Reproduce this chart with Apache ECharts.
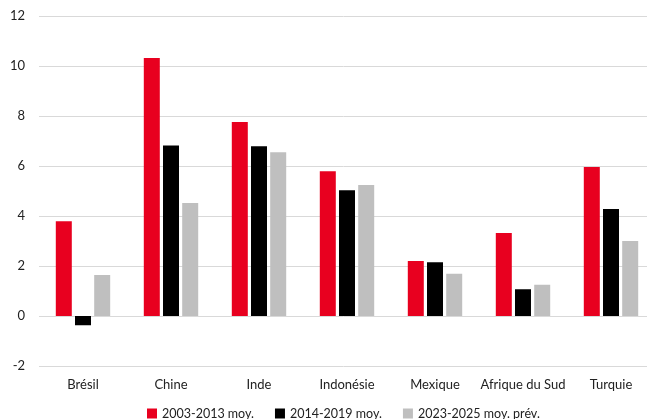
<!DOCTYPE html>
<html><head><meta charset="utf-8">
<script src="https://cdn.jsdelivr.net/npm/echarts@6/dist/echarts.min.js"></script>
<style>html,body{margin:0;padding:0;background:#fff;overflow:hidden}#c{width:647px;height:419px}</style>
</head><body><div id="c"></div>
<script>
const categories = ['Brésil','Chine','Inde','Indonésie','Mexique','Afrique du Sud','Turquie'];
const seriesNames = ['2003-2013 moy.','2014-2019 moy.','2023-2025 moy. prév.'];
const avg2003_2013 = [3.79, 10.32, 7.76, 5.79, 2.2, 3.32, 5.96];
const avg2014_2019 = [-0.37, 6.82, 6.79, 5.03, 2.15, 1.07, 4.28];
const avg2023_2025 = [1.64, 4.52, 6.55, 5.24, 1.69, 1.25, 3.0];
const colors = ['#e8001f','#000000','#bfbfbf'];
const font = 'Lato';
const chart = echarts.init(document.getElementById('c'));
chart.setOption({
  animation:false,
  textStyle:{fontFamily:font},
  grid:{left:39,width:616,top:16,height:350,containLabel:false,outerBoundsMode:'none'},
  legend:{top:402,left:142,itemWidth:10,itemHeight:10,itemGap:21,
    icon:'rect',textStyle:{fontSize:12.5,color:'#222',fontFamily:font},
    data:seriesNames},
  xAxis:{type:'category',data:categories,axisLine:{show:false},axisTick:{show:false},
    axisLabel:{fontSize:13,color:'#222',margin:12,interval:0,fontFamily:font}},
  yAxis:{type:'value',min:-2,max:12,interval:2,
    axisLabel:{fontSize:13,color:'#222',margin:14,fontFamily:font},
    splitLine:{lineStyle:{color:'#d9d9d9',width:1}}},
  series:[avg2003_2013,avg2014_2019,avg2023_2025].map((d,i)=>({
    name:seriesNames[i],type:'bar',data:d,barWidth:16,barGap:'20%',
    itemStyle:{color:colors[i]}}))
});
</script></body></html>
